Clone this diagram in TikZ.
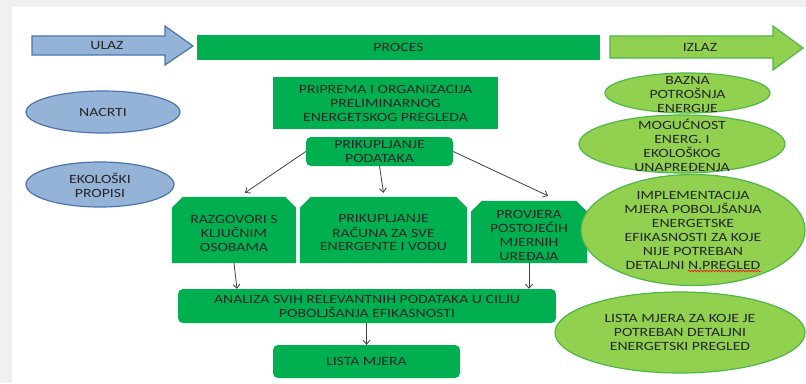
\documentclass[tikz,border=0pt]{standalone}
\usepackage{fontspec}
\setmainfont{Carlito}[FakeStretch=1.25]
\usetikzlibrary{shapes.geometric,arrows.meta,calc,decorations.pathmorphing}
\definecolor{dgreen}{HTML}{00B050}
\definecolor{lgreen}{HTML}{92D050}
\definecolor{lgedge}{HTML}{4DB848}
\definecolor{bfill}{HTML}{95B3D7}
\definecolor{bedge}{HTML}{4A76B0}
\definecolor{txt}{HTML}{262626}
\definecolor{arrowc}{HTML}{404040}
\definecolor{bggray}{HTML}{F0F0F0}
\tikzset{
  every node/.style={font=\fontsize{12.6}{14}\selectfont, text=txt, align=center, inner sep=1pt},
  gbox/.style={fill=dgreen, draw=none},
  rbox/.style={gbox, rounded corners=5pt},
  cbox/.style={rectangle, draw=none, fill=none, inner sep=0pt},
  bell/.style={ellipse, fill=bfill, draw=bedge, line width=1.2pt},
  gell/.style={ellipse, fill=lgreen, draw=lgedge, line width=1.2pt},
  arr/.style={draw=arrowc, line width=0.8pt, -{Straight Barb[length=4pt,width=7pt]}},
}
\newcommand{\chamfill}[1]{%
  \fill[dgreen] (#1.south west) -- ($(#1.north west)+(0,11)$) -- ($(#1.north west)+(11,0)$)
    -- ($(#1.north east)+(-11,0)$) -- ($(#1.north east)+(0,11)$) -- (#1.south east) -- cycle;}
\begin{document}
\begin{tikzpicture}[x=1pt,y=-1pt]
\fill[bggray] (0,0) rectangle (806,383);
\fill[white] (12,7) rectangle (806,383);
\useasboundingbox (0,0) rectangle (806,383);

% header arrows and bar
\filldraw[fill=bfill, draw=bedge, line width=1.2pt]
  (32,36) -- (165,36) -- (165,26) -- (193,46) -- (165,65) -- (165,55) -- (32,55) -- cycle;
\node (ulaz) at (107,46) {ULAZ};
\node[gbox, minimum width=403pt, minimum height=25pt, inner sep=0pt] (proces) at (398.5,47.5) {PROCES};
\filldraw[fill=lgreen, draw=lgedge, line width=1.2pt]
  (610,36) -- (773,36) -- (773,26) -- (803,48) -- (773,70) -- (773,58) -- (610,58) -- cycle;
\node (izlaz) at (700,47) {IZLAZ};

% left inputs
\node[bell, minimum width=154pt, minimum height=42pt] (nacrti) at (103,112) {};
\node at (nacrti) {NACRTI};
\node[bell, minimum width=148pt, minimum height=45pt] (eko) at (100,184.5) {};
\node at (100,185) {EKOLOŠKI\\PROPISI};

% process
\node[gbox, minimum width=225pt, minimum height=52pt] (prip) at (385.5,103)
  {PRIPREMA I ORGANIZACIJA\\PRELIMINARNOG\\ENERGETSKOG PREGLEDA};
\node[rbox, minimum width=147pt, minimum height=29pt] (pp) at (379.5,151.5) {PRIKUPLJANJE\\PODATAKA};
\node[cbox, minimum width=124pt, minimum height=66pt] (razg) at (234,230) {};
\chamfill{razg}
\node at (234,233) {RAZGOVORI S\\KLJUČNIM\\OSOBAMA};
\node[cbox, minimum width=167pt, minimum height=66pt] (racuna) at (383.5,230) {};
\chamfill{racuna}
\node at (383.5,233) {PRIKUPLJANJE\\RAČUNA ZA SVE\\ENERGENTE I VODU};
\node[cbox, minimum width=116pt, minimum height=62pt] (prov) at (529,232) {};
\chamfill{prov}
\node at (529,235.5) {PROVJERA\\POSTOJEĆIH\\MJERNIH\\UREĐAJA};
\node[rbox, minimum width=378pt, minimum height=34pt] (anal) at (367,306)
  {ANALIZA SVIH RELEVANTNIH PODATAKA U CILJU\\POBOLJŠANJA EFIKASNOSTI};
\node[rbox, minimum width=187pt, minimum height=33pt] (lista) at (366.5,361.5) {LISTA MJERA};

% outputs
\node[gell, minimum width=165pt, minimum height=40pt] (bazna) at (687.5,93) {};
\node at (687.5,94) {BAZNA\\POTROŠNJA\\ENERGIJE};
\node[gell, minimum width=206pt, minimum height=58pt] (mog) at (682,144) {};
\node at (682,145) {MOGUĆNOST\\ENERG. I\\EKOLOŠKOG\\UNAPREĐENJA};
\node[gell, minimum width=224pt, minimum height=111pt] (impl) at (693,230) {};
\node (impltxt) at (693,230.5) {IMPLEMENTACIJA\\MJERA POBOLJŠANJA\\ENERGETSKE\\EFIKASNOSTI ZA KOJE\\NIJE POTREBAN\\DETALJNI N.PREGLED};
\node[gell, minimum width=250pt, minimum height=81pt] (ldet) at (680,332.5) {};
\node at (680,332) {LISTA MJERA ZA KOJE JE\\POTREBAN DETALJNI\\ENERGETSKI PREGLED};
\draw[red, line width=0.5pt, decorate, decoration={snake, amplitude=0.9pt, segment length=3pt}]
  (688,271) -- (761,271);

% connectors
\draw[arr] (pp.west) -- ($(razg.north)+(11,-4)$);
\draw[arr] (pp.south) -- ($(racuna.north)+(0,-4)$);
\draw[arr] (pp.east) -- ($(prov.north)+(19,-5)$);
\draw[arr] (razg.south) -- ($(razg.south |- anal.north)+(3,0)$);
\draw[arr] (prov.south) -- (prov.south |- anal.north);
\draw[arr] (anal.south -| lista.north) -- (lista.north);
\end{tikzpicture}
\end{document}
